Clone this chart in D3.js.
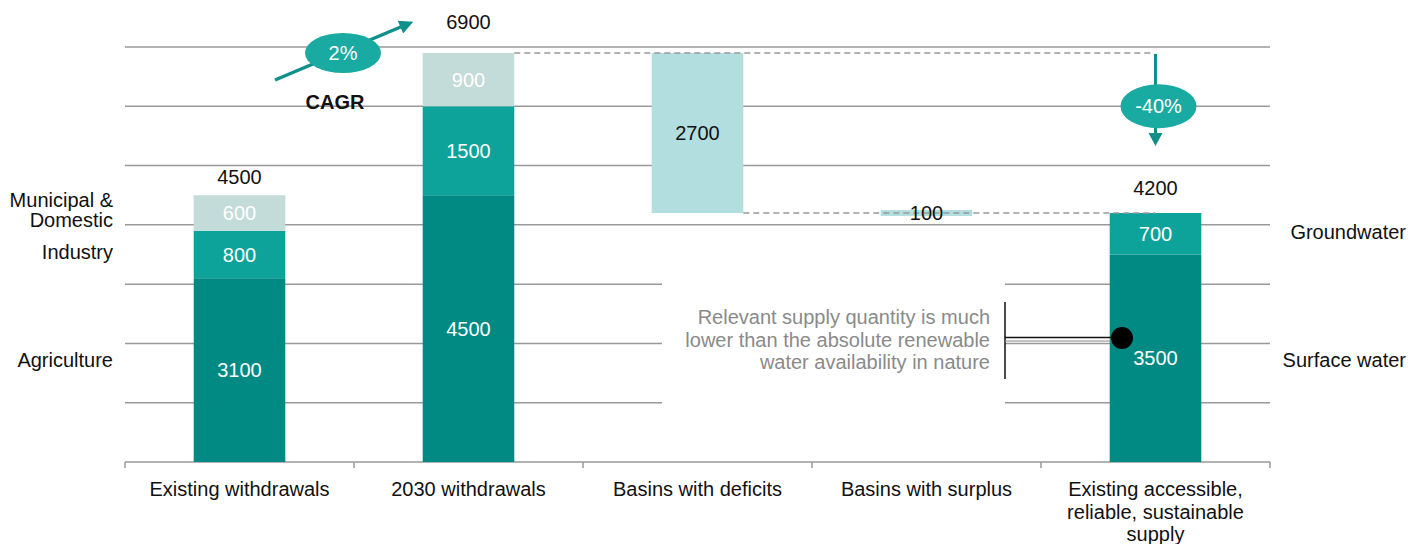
<!DOCTYPE html>
<html>
<head>
<meta charset="utf-8">
<script src="https://cdn.jsdelivr.net/npm/d3@7"></script>
<style>
  body { margin: 0; background: #fff; }
  text { font-family: "Liberation Sans", Arial, Helvetica, sans-serif; font-size: 20px; }
</style>
</head>
<body>
<div id="vis"></div>
<script>

// Data ----------------------------------------------------------------------

var categories = ["Existing withdrawals", "2030 withdrawals", "Basins with deficits",
                  "Basins with surplus", "Existing accessible, reliable, sustainable supply"];
var categoryLines = [["Existing withdrawals"], ["2030 withdrawals"], ["Basins with deficits"],
                     ["Basins with surplus"], ["Existing accessible,", "reliable, sustainable", "supply"]];

// withdrawals (existing, 2030)
var agriculture = [3100, 4500];
var industry = [800, 1500];
var municipal = [600, 900];

// waterfall steps
var deficit = 2700;
var surplus = 100;

// supply
var surfaceWater = 3500;
var groundwater = 700;

var yTicks = [0, 1000, 2000, 3000, 4000, 5000, 6000, 7000];
var cagrLabel = "2%";
var gapLabel = "-40%";

// Setup ---------------------------------------------------------------------

var width = 1423, height = 544;

var dark = "#008a83", mid = "#0ea39a", light = "#c3dcd9", gapColor = "#b2dedf",
    oval = "#19aaa2", arrowColor = "#10908a", gridColor = "#999";

var svg = d3.select("#vis").append("svg")
  .attr("width", width)
  .attr("height", height);

var x = d3.scaleBand()
  .domain(categories)
  .range([125, 1270])
  .paddingInner(0.6)
  .paddingOuter(0.3);

var y = d3.scaleLinear()
  .domain([0, 7000])
  .range([462, 47]);

var bw = x.bandwidth();
function cx(i) { return x(categories[i]) + bw / 2; }

// Build segments ------------------------------------------------------------

var segments = [];
[0, 1].forEach(function(i) {
  var base = 0;
  [[agriculture[i], dark, "#fff"], [industry[i], mid, "#fff"], [municipal[i], light, "#fff"]]
    .forEach(function(s) {
      segments.push({cat: categories[i], y0: base, y1: base + s[0], color: s[1], text: s[2], value: s[0]});
      base += s[0];
    });
});

var total2030 = agriculture[1] + industry[1] + municipal[1];
var afterDeficit = total2030 - deficit;
segments.push({cat: categories[2], y0: afterDeficit, y1: total2030, color: gapColor, text: "#111", value: deficit});
segments.push({cat: categories[3], y0: afterDeficit - surplus / 2, y1: afterDeficit + surplus / 2, color: gapColor, text: "#111", value: surplus});
segments.push({cat: categories[4], y0: 0, y1: surfaceWater, color: dark, text: "#fff", value: surfaceWater});
segments.push({cat: categories[4], y0: surfaceWater, y1: surfaceWater + groundwater, color: mid, text: "#fff", value: groundwater});

var totals = [
  {i: 0, value: agriculture[0] + industry[0] + municipal[0]},
  {i: 1, value: total2030},
  {i: 4, value: surfaceWater + groundwater}
];
// gap between bar top and its total label
var totalOffset = {0: 18, 1: 31, 4: 25};

// Grid ----------------------------------------------------------------------

svg.append("g")
  .selectAll("line")
  .data(yTicks.slice(1))
  .enter().append("line")
    .attr("x1", 125).attr("x2", 1270)
    .attr("y1", function(d) { return y(d); })
    .attr("y2", function(d) { return y(d); })
    .attr("stroke", gridColor)
    .attr("stroke-width", 1.5);

// white box behind the annotation
svg.append("rect")
  .attr("x", 662).attr("y", 268)
  .attr("width", 343).attr("height", 150)
  .attr("fill", "#fff");

// baseline with ticks at band edges
var step = x.step();
var edges = d3.range(categories.length + 1).map(function(i) {
  return i === 0 ? x.range()[0] : (i === categories.length ? x.range()[1] : x(categories[i]) - step * x.paddingInner() / 2);
});

svg.append("line")
  .attr("x1", 125).attr("x2", 1270)
  .attr("y1", y(0)).attr("y2", y(0))
  .attr("stroke", gridColor).attr("stroke-width", 1.5);

svg.append("g")
  .selectAll("line")
  .data(edges)
  .enter().append("line")
    .attr("x1", function(d) { return d; })
    .attr("x2", function(d) { return d; })
    .attr("y1", y(0)).attr("y2", y(0) + 6)
    .attr("stroke", gridColor).attr("stroke-width", 1.5);

// Bars ----------------------------------------------------------------------

svg.append("g")
  .selectAll("rect")
  .data(segments)
  .enter().append("rect")
    .attr("x", function(d) { return x(d.cat); })
    .attr("y", function(d) { return y(d.y1); })
    .attr("width", bw)
    .attr("height", function(d) { return y(d.y0) - y(d.y1); })
    .attr("fill", function(d) { return d.color; });

// Connectors ----------------------------------------------------------------

svg.append("line")
  .attr("x1", x(categories[1]) + bw).attr("x2", cx(4) - 2)
  .attr("y1", y(total2030)).attr("y2", y(total2030))
  .attr("stroke", "#999").attr("stroke-width", 1.5)
  .attr("stroke-dasharray", "6,4");

svg.append("line")
  .attr("x1", x(categories[2]) + bw).attr("x2", cx(4))
  .attr("y1", y(afterDeficit)).attr("y2", y(afterDeficit))
  .attr("stroke", "#999").attr("stroke-width", 1.5)
  .attr("stroke-dasharray", "6,4");

// Labels --------------------------------------------------------------------

svg.append("g")
  .selectAll("text")
  .data(segments)
  .enter().append("text")
    .attr("x", function(d) { return x(d.cat) + bw / 2; })
    .attr("y", function(d) { return (y(d.y0) + y(d.y1)) / 2; })
    .attr("dy", "0.35em")
    .attr("text-anchor", "middle")
    .attr("fill", function(d) { return d.text; })
    .text(function(d) { return d.value; });

svg.append("g")
  .selectAll("text")
  .data(totals)
  .enter().append("text")
    .attr("x", function(d) { return cx(d.i); })
    .attr("y", function(d) { return y(d.value) - totalOffset[d.i]; })
    .attr("dy", "0.35em")
    .attr("text-anchor", "middle")
    .attr("fill", "#111")
    .text(function(d) { return d.value; });

// category labels
var cat = svg.append("g")
  .selectAll("text")
  .data(categoryLines)
  .enter().append("text")
    .attr("text-anchor", "middle")
    .attr("fill", "#111")
    .attr("transform", function(d, i) { return "translate(" + cx(i) + "," + 489 + ")"; });

cat.selectAll("tspan")
  .data(function(d) { return d; })
  .enter().append("tspan")
    .attr("x", 0)
    .attr("y", function(d, j) { return j * 22.5; })
    .attr("dy", "0.35em")
    .text(function(d) { return d; });

// left legend
var leftLabels = [["Municipal &", 200], ["Domestic", 220], ["Industry", 252], ["Agriculture", 360]];
svg.append("g")
  .selectAll("text")
  .data(leftLabels)
  .enter().append("text")
    .attr("x", 113)
    .attr("y", function(d) { return d[1]; })
    .attr("dy", "0.35em")
    .attr("text-anchor", "end")
    .attr("fill", "#111")
    .text(function(d) { return d[0]; });

// right legend
var rightLabels = [["Groundwater", y(surfaceWater + groundwater / 2) - 2], ["Surface water", y(surfaceWater / 2) + 2]];
svg.append("g")
  .selectAll("text")
  .data(rightLabels)
  .enter().append("text")
    .attr("x", 1406)
    .attr("y", function(d) { return d[1]; })
    .attr("dy", "0.35em")
    .attr("text-anchor", "end")
    .attr("fill", "#111")
    .text(function(d) { return d[0]; });

// CAGR arrow ----------------------------------------------------------------

svg.append("defs").append("marker")
  .attr("id", "head")
  .attr("viewBox", "0 0 10 10")
  .attr("refX", 2).attr("refY", 5)
  .attr("markerUnits", "userSpaceOnUse")
  .attr("markerWidth", 16).attr("markerHeight", 14)
  .attr("orient", "auto")
  .append("path")
    .attr("d", "M0,0 L10,5 L0,10 z")
    .attr("fill", arrowColor);

svg.append("line")
  .attr("x1", 275).attr("y1", 80)
  .attr("x2", 403).attr("y2", 26)
  .attr("stroke", arrowColor).attr("stroke-width", 3.5)
  .attr("marker-end", "url(#head)");

svg.append("ellipse")
  .attr("cx", 343).attr("cy", 53)
  .attr("rx", 38).attr("ry", 20)
  .attr("fill", oval);

svg.append("text")
  .attr("x", 343).attr("y", 53)
  .attr("dy", "0.35em")
  .attr("text-anchor", "middle")
  .attr("fill", "#fff")
  .text(cagrLabel);

svg.append("text")
  .attr("x", 335).attr("y", 102)
  .attr("dy", "0.35em")
  .attr("text-anchor", "middle")
  .attr("font-weight", "bold")
  .attr("fill", "#111")
  .text("CAGR");

// -40% arrow ----------------------------------------------------------------

var ax = cx(4);
svg.append("line")
  .attr("x1", ax).attr("y1", y(total2030) + 1)
  .attr("x2", ax).attr("y2", 134)
  .attr("stroke", arrowColor).attr("stroke-width", 3);

svg.append("path")
  .attr("d", "M" + (ax - 7) + ",133 L" + (ax + 7) + ",133 L" + ax + ",146 z")
  .attr("fill", arrowColor);

svg.append("ellipse")
  .attr("cx", ax + 3).attr("cy", y(6000))
  .attr("rx", 38).attr("ry", 22)
  .attr("fill", oval);

svg.append("text")
  .attr("x", ax + 3).attr("y", y(6000))
  .attr("dy", "0.35em")
  .attr("text-anchor", "middle")
  .attr("fill", "#fff")
  .text(gapLabel);

// Annotation ----------------------------------------------------------------

var note = ["Relevant supply quantity is much", "lower than the absolute renewable", "water availability in nature"];
svg.append("g")
  .selectAll("text")
  .data(note)
  .enter().append("text")
    .attr("x", 990)
    .attr("y", function(d, i) { return 317 + i * 22.5; })
    .attr("dy", "0.35em")
    .attr("text-anchor", "end")
    .attr("fill", "#8a8a8a")
    .text(function(d) { return d; });

svg.append("line")
  .attr("x1", 1005).attr("x2", 1005)
  .attr("y1", 302).attr("y2", 379)
  .attr("stroke", "#111").attr("stroke-width", 1.5);

svg.append("line")
  .attr("x1", 1005).attr("x2", 1122)
  .attr("y1", 337.5).attr("y2", 337.5)
  .attr("stroke", "#111").attr("stroke-width", 1.5);

svg.append("line")
  .attr("x1", 1005).attr("x2", 1122)
  .attr("y1", 341).attr("y2", 341)
  .attr("stroke", "#888").attr("stroke-width", 1.2);

svg.append("circle")
  .attr("cx", 1122).attr("cy", 338)
  .attr("r", 11)
  .attr("fill", "#000");

</script>
</body>
</html>
